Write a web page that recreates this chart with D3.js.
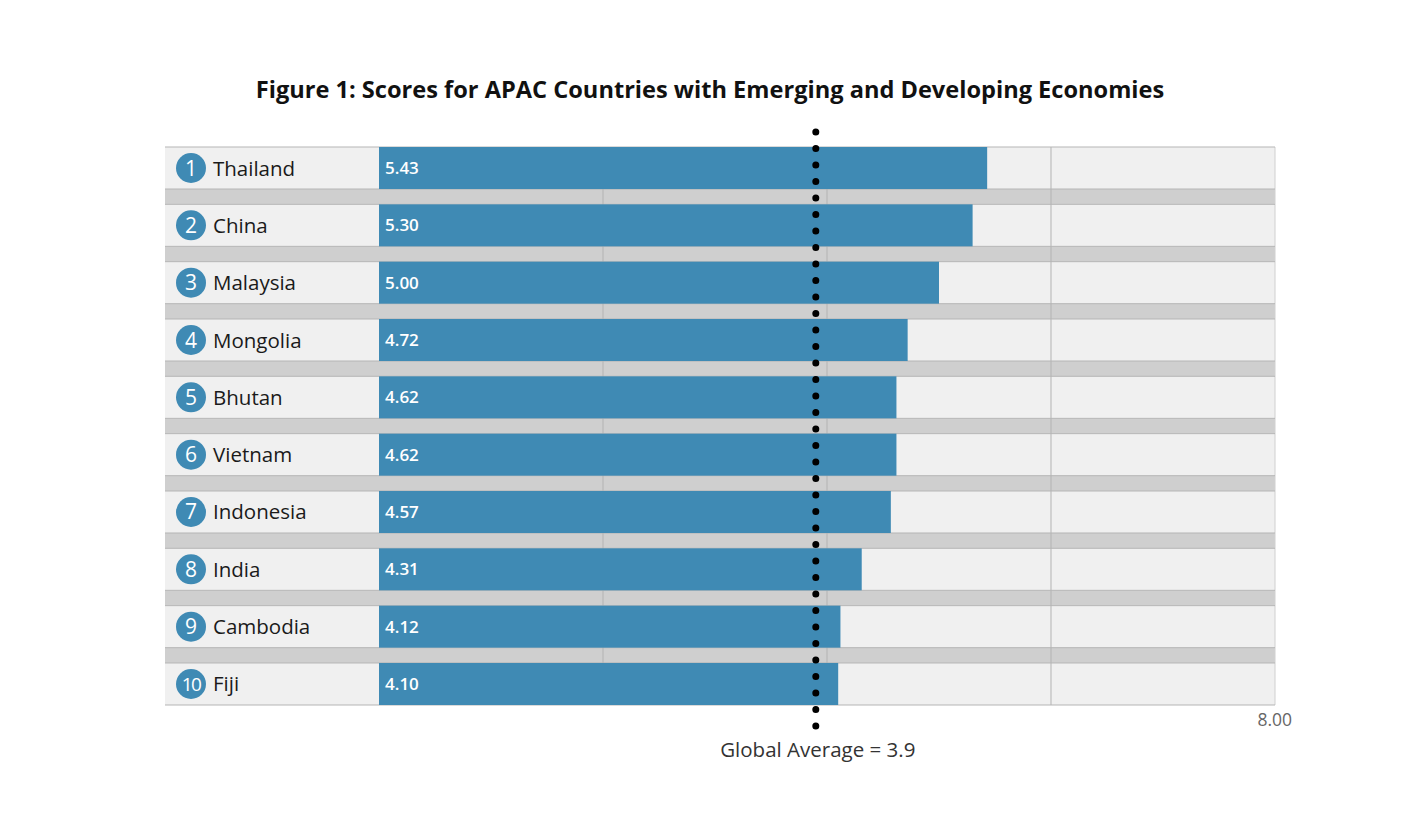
<!DOCTYPE html>
<html lang="en">
<head>
  <meta charset="utf-8">
  <title>Figure 1</title>
  <script src="https://d3js.org/d3.v7.min.js"></script>
  <style>
    body { margin: 0; background: #fff; font-family: "Open Sans", Lato, sans-serif; }
  </style>
</head>
<body>
<div id="chart"></div>
<script>
// data
var countries = ["Thailand", "China", "Malaysia", "Mongolia", "Bhutan", "Vietnam", "Indonesia", "India", "Cambodia", "Fiji"];
var scores = [5.43, 5.30, 5.00, 4.72, 4.62, 4.62, 4.57, 4.31, 4.12, 4.10];
var gridTicks = [2, 4, 6];
var globalAverage = 3.9;
var maxScore = 8;

var width = 1420, height = 826;
var plotLeft = 165, labelW = 214, plotRight = 1275, plotTop = 147, plotBottom = 705;

var svg = d3.select("#chart").append("svg")
  .attr("width", width)
  .attr("height", height);

var x = d3.scaleLinear().domain([0, maxScore]).range([plotLeft + labelW, plotRight]);
var y = d3.scaleBand().domain(countries).range([plotTop, plotBottom]).paddingInner(0.267).paddingOuter(0);

// title
svg.append("text")
  .attr("x", 710).attr("y", 98)
  .attr("text-anchor", "middle")
  .style("font-size", "23.6px").style("font-weight", "700").style("fill", "#111")
  .text("Figure 1: Scores for APAC Countries with Emerging and Developing Economies");

// grey gap bands between the rows
var gaps = countries.slice(0, -1);
svg.selectAll(".gap").data(gaps).enter().append("rect")
  .attr("x", plotLeft).attr("width", plotRight - plotLeft)
  .attr("y", function(d) { return y(d) + y.bandwidth(); })
  .attr("height", y.step() - y.bandwidth())
  .attr("fill", "#cfcfcf");

// row backgrounds
svg.selectAll(".row").data(countries).enter().append("rect")
  .attr("x", plotLeft).attr("width", plotRight - plotLeft)
  .attr("y", function(d) { return y(d); })
  .attr("height", y.bandwidth())
  .attr("fill", "#f0f0f0");

// gridlines
svg.selectAll(".grid").data(gridTicks).enter().append("line")
  .attr("x1", function(d) { return x(d); }).attr("x2", function(d) { return x(d); })
  .attr("y1", plotTop).attr("y2", plotBottom)
  .attr("stroke", "#b3b3b3").attr("stroke-width", 1);

// right edge
svg.append("line")
  .attr("x1", x(maxScore)).attr("x2", x(maxScore))
  .attr("y1", plotTop).attr("y2", plotBottom)
  .attr("stroke", "#d0d0d0").attr("stroke-width", 1);

// row border lines
svg.selectAll(".rowline").data(countries).enter().append("g").each(function(d) {
  var g = d3.select(this);
  [y(d), y(d) + y.bandwidth()].forEach(function(yy) {
    g.append("line")
      .attr("x1", plotLeft).attr("x2", plotRight)
      .attr("y1", yy).attr("y2", yy)
      .attr("stroke", "#b5b5b5").attr("stroke-width", 1);
  });
});

// bars
svg.selectAll(".bar").data(countries).enter().append("rect")
  .attr("x", x(0))
  .attr("y", function(d) { return y(d); })
  .attr("width", function(d, i) { return x(scores[i]) - x(0); })
  .attr("height", y.bandwidth())
  .attr("fill", "#3f8ab4");

// value labels
svg.selectAll(".val").data(countries).enter().append("text")
  .attr("x", x(0) + 6)
  .attr("y", function(d) { return y(d) + y.bandwidth() / 2 + 6; })
  .style("font-size", "17px").style("font-weight", "600").style("fill", "#fff")
  .text(function(d, i) { return scores[i].toFixed(2); });

// rank badges
svg.selectAll(".badge").data(countries).enter().append("circle")
  .attr("cx", plotLeft + 26)
  .attr("cy", function(d) { return y(d) + y.bandwidth() / 2; })
  .attr("r", 15)
  .attr("fill", "#3f8ab4");

svg.selectAll(".rank").data(countries).enter().append("text")
  .attr("x", plotLeft + 26)
  .attr("y", function(d) { return y(d) + y.bandwidth() / 2 + 7.5; })
  .attr("text-anchor", "middle")
  .style("font-size", function(d, i) { return i < 9 ? "21px" : "19px"; })
  .style("font-weight", "500").style("fill", "#fff")
  .style("letter-spacing", function(d, i) { return i < 9 ? "0" : "-1.5px"; })
  .text(function(d, i) { return i + 1; });

// country names
svg.selectAll(".name").data(countries).enter().append("text")
  .attr("x", plotLeft + 48)
  .attr("y", function(d) { return y(d) + y.bandwidth() / 2 + 7.5; })
  .style("font-size", "20.5px").style("font-weight", "500").style("fill", "#1a1a1a")
  .text(function(d) { return d; });

// global average dotted line
svg.append("line")
  .attr("x1", x(globalAverage)).attr("x2", x(globalAverage))
  .attr("y1", plotTop - 15).attr("y2", plotBottom + 22)
  .attr("stroke", "#000").attr("stroke-width", 7)
  .attr("stroke-linecap", "round")
  .attr("stroke-dasharray", "0 16.5");

svg.append("text")
  .attr("x", x(globalAverage) + 2).attr("y", 757)
  .attr("text-anchor", "middle")
  .style("font-size", "20.5px").style("fill", "#333")
  .text("Global Average = " + globalAverage);

// end tick label
svg.append("text")
  .attr("x", x(maxScore) + 17).attr("y", 726)
  .attr("text-anchor", "end")
  .style("font-size", "17.5px").style("fill", "#666")
  .text(maxScore.toFixed(2));
</script>
</body>
</html>
